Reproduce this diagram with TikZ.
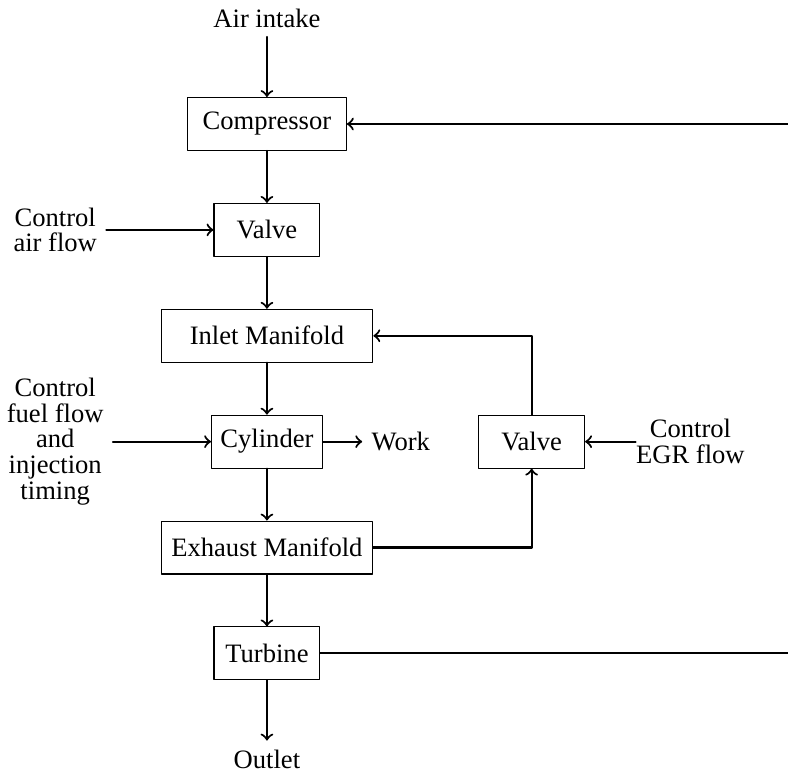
\documentclass[tikz,border=0pt]{standalone}
\usepackage{fontspec}
\setmainfont{Liberation Serif}
\usepackage{tikz}

\begin{document}
\begin{tikzpicture}[line cap=round,line join=round,>=to,x=1.0cm,y=1.0cm,
        blk/.style={draw,minimum height=0.7cm,minimum width=1.4cm},
        ctl/.style={align=center,font=\fontsize{10}{9.6}\selectfont},
        flow/.style={thick}]
        \useasboundingbox (-3.53,1.64) rectangle (6.89,-8.55);
        \node (air) at (0,1.4) {Air intake};
        \node[blk,minimum width=2.1cm] (comp) at (0,0) {Compressor};
        \node[blk] (valve) at (0,-1.4) {Valve};
        \node[blk,minimum width=2.8cm] (inlet) at (0,-2.8) {Inlet Manifold};
        \node[blk] (cyl) at (0,-4.2) {Cylinder};
        \node[blk,minimum width=2.8cm] (exh) at (0,-5.6) {Exhaust Manifold};
        \node[blk] (turb) at (0,-7.0) {Turbine};
        \node (out) at (0,-8.4) {Outlet};
        \node[blk] (egr) at (3.5,-4.2) {Valve};
        \node[ctl] (airctl) at (-2.8,-1.4) {Control\\air flow};
        \node[ctl] (fuelctl) at (-2.8,-4.2) {Control\\fuel flow\\and\\injection\\timing};
        \node[ctl,inner xsep=0pt] (egrctl) at (5.6,-4.2) {Control\\EGR flow};
        \node (work) at (1.77,-4.2) {Work};
        \coordinate (rtop) at (6.89,0);
        \coordinate (rbot) at (6.89,-7.0);
        \draw[flow,->] (air) -- (comp);
        \draw[flow,->] (comp) -- (valve);
        \draw[flow,->] (valve) -- (inlet);
        \draw[flow,->] (inlet) -- (cyl);
        \draw[flow,->] (cyl) -- (exh);
        \draw[flow,->] (exh) -- (turb);
        \draw[flow,->] (turb) -- (out);
        \draw[flow,->] (airctl) -- (valve);
        \draw[flow,->] (fuelctl) -- (cyl);
        \draw[flow,->] (cyl) -- (work);
        \draw[flow,->] (egrctl) -- (egr);
        \draw[flow,->] (exh.east) -| (egr.south);
        \draw[flow,->] (egr.north) |- (inlet.east);
        \draw[flow,->] (rtop) -- (comp.east);
        \draw[flow] (turb.east) -- (rbot);
    \end{tikzpicture}
\end{document}
